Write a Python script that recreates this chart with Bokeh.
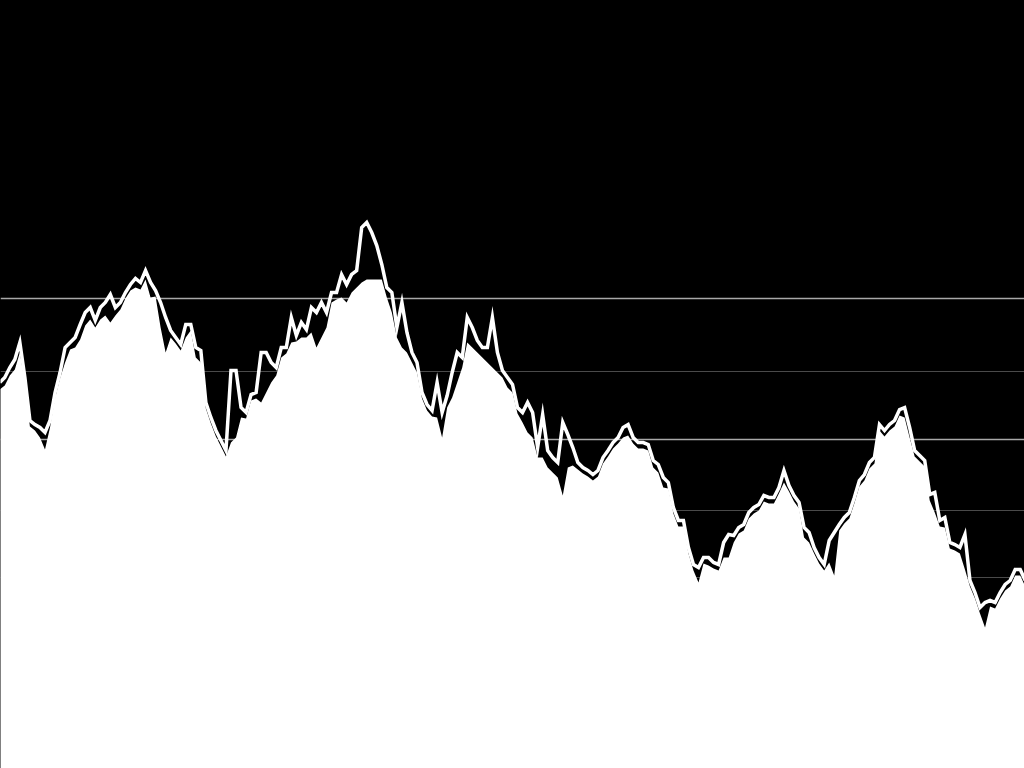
from bokeh.plotting import figure
from bokeh.models import Range1d, Grid, FixedTicker, ColumnDataSource
from bokeh.embed import file_html
from bokeh.resources import INLINE

# index level (upper trace) and filled level (lower trace), one sample per period
upper = [386, 391, 401, 409, 426, 391, 348, 344, 341, 336, 348, 376, 396, 421, 426, 431, 444, 456, 461, 448,
         461, 466, 474, 461, 466, 476, 484, 490, 486, 498, 486, 478, 466, 451, 438, 431, 424, 444, 444, 421,
         418, 366, 351, 338, 328, 318, 398, 398, 361, 356, 374, 376, 416, 416, 406, 401, 421, 421, 451, 433,
         446, 439, 461, 456, 466, 456, 476, 476, 494, 484, 494, 498, 541, 546, 536, 523, 504, 481, 476, 441,
         466, 436, 416, 406, 376, 364, 358, 386, 356, 373, 396, 416, 411, 451, 441, 428, 421, 421, 451, 416,
         398, 391, 384, 361, 356, 366, 356, 321, 354, 318, 311, 306, 346, 334, 321, 306, 301, 298, 294, 298,
         311, 318, 326, 331, 341, 344, 331, 326, 326, 324, 308, 304, 291, 286, 261, 248, 248, 221, 204, 201,
         211, 211, 206, 204, 226, 234, 233, 241, 244, 256, 261, 264, 273, 271, 271, 281, 298, 283, 273, 266,
         241, 236, 221, 211, 204, 228, 236, 244, 251, 256, 271, 288, 294, 306, 311, 344, 338, 344, 348, 359,
         361, 341, 318, 313, 308, 274, 276, 248, 251, 226, 224, 221, 234, 188, 176, 161, 166, 168, 166, 176,
         184, 188, 199, 199, 188]

lower = [379, 383, 393, 399, 416, 385, 342, 338, 331, 319, 341, 370, 390, 406, 419, 421, 429, 443, 449, 441,
         449, 453, 446, 453, 459, 470, 478, 481, 479, 489, 471, 472, 441, 416, 431, 425, 418, 431, 438, 411,
         406, 360, 345, 332, 322, 312, 326, 331, 351, 350, 368, 370, 366, 376, 386, 393, 411, 415, 426, 427,
         431, 431, 436, 421, 431, 441, 466, 469, 471, 466, 476, 481, 486, 489, 489, 489, 489, 471, 456, 431,
         421, 416, 406, 396, 370, 358, 352, 351, 331, 361, 371, 386, 401, 426, 421, 416, 411, 406, 401, 396,
         391, 381, 376, 355, 346, 336, 331, 311, 311, 301, 296, 291, 273, 301, 303, 299, 295, 292, 288, 292,
         305, 312, 320, 325, 331, 333, 325, 320, 320, 318, 301, 296, 281, 280, 255, 242, 242, 215, 198, 186,
         205, 203, 200, 198, 211, 211, 226, 235, 238, 250, 255, 258, 267, 265, 265, 275, 286, 277, 267, 260,
         231, 226, 215, 205, 198, 206, 193, 238, 245, 250, 265, 282, 288, 300, 305, 338, 332, 338, 342, 353,
         351, 331, 312, 307, 302, 268, 256, 242, 241, 220, 218, 215, 199, 182, 170, 155, 141, 162, 160, 170,
         178, 182, 193, 193, 182]

period = list(range(len(upper)))
floor = [-10] * len(upper)

major_levels = [470, 329]
minor_levels = [397, 258, 191]

src = ColumnDataSource(dict(period=period, upper=upper, lower=lower, floor=floor))

p = figure(width=1024, height=768, output_backend="svg", toolbar_location=None,
           x_range=Range1d(0.15, len(upper) - 1.15), y_range=Range1d(0, 768),
           background_fill_color="#000000", border_fill_color="#000000",
           outline_line_color=None, min_border=0)
p.xaxis.visible = False
p.yaxis.visible = False
p.xgrid.visible = False
p.ygrid.visible = False

p.add_layout(Grid(dimension=1, ticker=FixedTicker(ticks=minor_levels),
                  grid_line_color="#4a4a4a", grid_line_width=1))
p.add_layout(Grid(dimension=1, ticker=FixedTicker(ticks=major_levels),
                  grid_line_color="#a8a8a8", grid_line_width=1.5))

p.varea(x="period", y1="floor", y2="lower", source=src, fill_color="#ffffff", fill_alpha=1)
p.line(x="period", y="upper", source=src, line_color="#ffffff", line_width=3.5, line_join="miter")

html = file_html(p, INLINE)
html = html.replace("</head>",
                    "<style>html,body{margin:0;padding:0;background:#000000;overflow:hidden}</style></head>", 1)
open("out.html", "w").write(html)
